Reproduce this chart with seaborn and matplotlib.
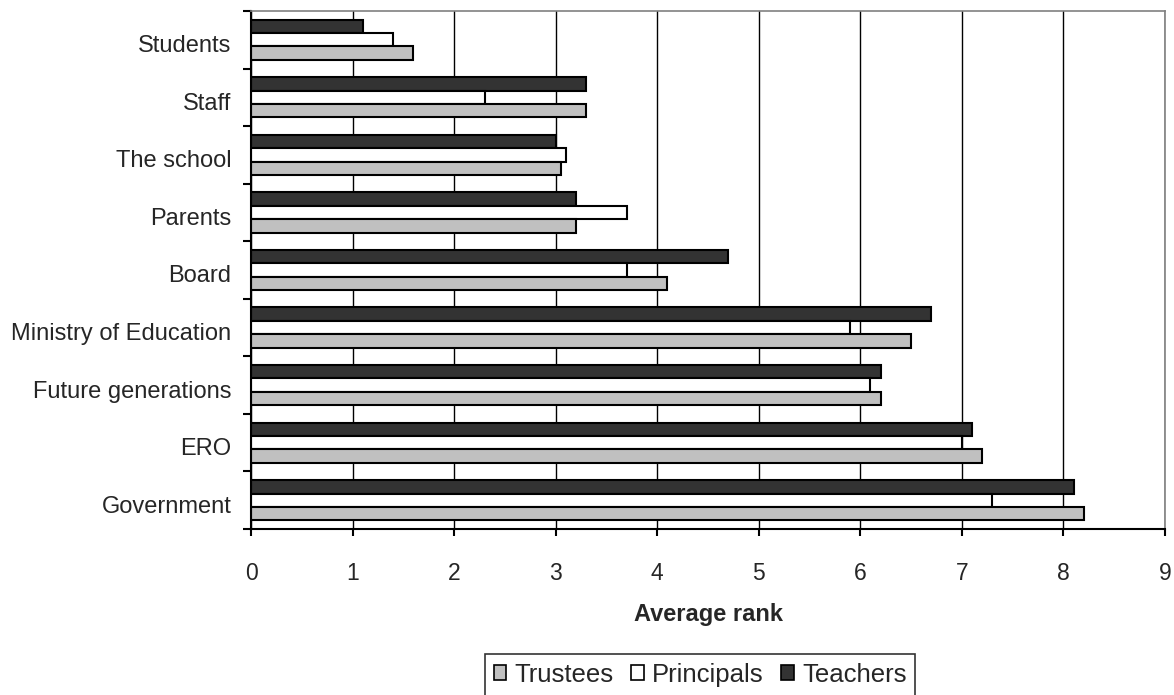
import matplotlib
matplotlib.use("Agg")
import matplotlib.pyplot as plt
import matplotlib.transforms as mtransforms
import seaborn as sns
import pandas as pd
from matplotlib.patches import Patch

categories = ["Students", "Staff", "The school", "Parents", "Board",
              "Ministry of Education", "Future generations", "ERO", "Government"]
trustees = [1.6, 3.3, 3.05, 3.2, 4.1, 6.5, 6.2, 7.2, 8.2]
principals = [1.4, 2.3, 3.1, 3.7, 3.7, 5.9, 6.1, 7.0, 7.3]
teachers = [1.1, 3.3, 3.0, 3.2, 4.7, 6.7, 6.2, 7.1, 8.1]
series_names = ["Trustees", "Principals", "Teachers"]
x_ticks = list(range(0, 10))

colors = {"Trustees": "#c0c0c0", "Principals": "#ffffff", "Teachers": "#333333"}

rows = []
for name, vals in zip(series_names, [trustees, principals, teachers]):
    for c, v in zip(categories, vals):
        rows.append({"Category": c, "Group": name, "Value": v})
df = pd.DataFrame(rows)

sns.set_theme(style="white")
plt.rcParams["font.family"] = ["Liberation Sans", "DejaVu Sans"]

fig = plt.figure(figsize=(11.74, 6.95), dpi=100)
ax = fig.add_axes([251 / 1174, 1 - 529 / 695, (1165 - 251) / 1174, (529 - 11) / 695])

sns.barplot(data=df, x="Value", y="Category", hue="Group", orient="h",
            order=categories, hue_order=["Teachers", "Principals", "Trustees"],
            palette=colors, width=0.7, edgecolor="black", linewidth=1.5,
            saturation=1, legend=False, ax=ax)

ax.set_xlim(0, 9)
ax.set_xticks(x_ticks)
ax.set_axisbelow(True)
ax.grid(axis="x", color="black", linewidth=1.0)
ax.grid(axis="y", visible=False)

# y ticks at category boundaries
ax.set_yticks([i for i in range(len(categories))])
ax.set_yticklabels(categories)
ax.set_yticks([i - 0.5 for i in range(len(categories) + 1)], minor=True)
ax.tick_params(axis="y", which="major", length=0, pad=14, labelsize=17)
ax.tick_params(axis="y", which="minor", length=6, width=1.5, color="black", left=True)
ax.tick_params(axis="x", which="major", length=5, width=1.5, color="black",
               bottom=True, pad=19, labelsize=16.5)

offset = mtransforms.ScaledTranslation(0, -4 / 100, fig.dpi_scale_trans)
for lbl in ax.get_yticklabels():
    lbl.set_transform(lbl.get_transform() + offset)

ax.set_xlabel("Average rank", fontsize=17, fontweight="bold", labelpad=13)
ax.set_ylabel("")

for s in ["left", "bottom"]:
    ax.spines[s].set_color("black")
    ax.spines[s].set_linewidth(1.5)
for s in ["top", "right"]:
    ax.spines[s].set_color("#808080")
    ax.spines[s].set_linewidth(1.2)

handles = [Patch(facecolor=colors[n], edgecolor="black", linewidth=1.2) for n in series_names]
leg = fig.legend(handles, series_names, loc="lower center", bbox_to_anchor=(700 / 1174, -0.001),
                 ncol=3, fontsize=18.5, frameon=True, fancybox=False, edgecolor="black",
                 handlelength=0.5, handleheight=0.5, handletextpad=0.3, columnspacing=0.7,
                 borderpad=0.35, borderaxespad=0)
leg.get_frame().set_linewidth(1.2)

fig.savefig("out.png", dpi=100, facecolor="white")
